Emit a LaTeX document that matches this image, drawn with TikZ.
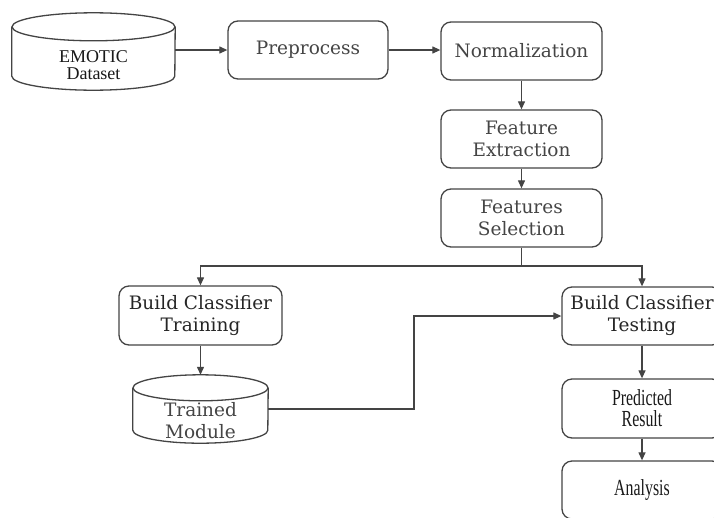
\documentclass[tikz,border=0pt]{standalone}
\usepackage{fontspec}
\setmainfont{Liberation Serif}
\newfontfamily\widefont{DejaVu Serif}
\newfontfamily\condfont[FakeStretch=0.69]{Liberation Serif}
\usetikzlibrary{arrows.meta}
\definecolor{edge}{HTML}{444444}
\definecolor{txtgray}{HTML}{454545}
\tikzset{
  x=1pt,y=-1pt,
  box/.style={draw=edge, line width=1.3pt, rounded corners=10pt, minimum width=160pt, minimum height=58pt, align=center, inner sep=0pt, text=txtgray, font=\widefont\fontsize{18.5}{22}\selectfont},
  darkbox/.style={box, text=black!85},
  condbox/.style={box, text=black!90, font=\condfont\fontsize{23}{21}\selectfont},
  dbnode/.style={inner sep=0pt},
  cyl/.style={draw=edge, line width=1.3pt},
  lbl/.style={align=center, inner sep=0pt},
  arr/.style={draw=edge, line width=1.2pt, -{Triangle[length=8pt,width=7pt]}},
  ln/.style={draw=edge, line width=1.2pt},
}
\newcommand\drawcyl[3]{% node name, x radius, y radius
  \draw[cyl] ([yshift=-#3]#1.north west) -- ([yshift=#3]#1.south west)
    arc[start angle=180, end angle=360, x radius=#2, y radius=#3]
    -- ([yshift=-#3]#1.north east);
  \draw[cyl] ([yshift=-#3]#1.north) ellipse [x radius=#2, y radius=#3];
}
\begin{document}
\begin{tikzpicture}
\useasboundingbox[fill=white] (0,0) rectangle (714,517);
% nodes
\node[dbnode, minimum width=163pt, minimum height=77pt] (emotic) at (93.5,51.5) {};
\drawcyl{emotic}{81.5pt}{14pt}
\node[lbl, text=black!90, font=\fontsize{18}{17}\selectfont] (emoticlbl) at (93.5,65) {EMOTIC\\Dataset};
\node[box] (pre) at (308,50) {Preprocess};
\node[box, minimum width=161pt] (norm) at (521.5,51) {Normalization};
\node[box, minimum width=161pt] (feat) at (521.5,139) {Feature\\Extraction};
\node[box, minimum width=161pt] (fsel) at (521.5,218) {Features\\Selection};
\node[darkbox, minimum width=163pt, minimum height=59pt] (train) at (200.5,315.5) {Build Classifier\\Training};
\node[dbnode, minimum width=135pt, minimum height=68pt] (trained) at (200.5,409) {};
\drawcyl{trained}{67.5pt}{13pt}
\node[lbl, text=txtgray, font=\widefont\fontsize{18.5}{22}\selectfont] (trainedlbl) at (200.5,421) {Trained\\Module};
\node[darkbox] (test) at (642,316) {Build Classifier\\Testing};
\node[condbox, minimum height=59pt] (pred) at (642,408.5) {Predicted\\Result};
\node[condbox] (ana) at (642,490) {Analysis};
% helper coordinates
\coordinate (split) at (521.5,266);
\coordinate (via) at (414,0);
% connectors
\draw[arr] (emotic.east |- pre.west) -- (pre.west);
\draw[arr] (pre.east) -- (pre.east -| norm.west);
\draw[arr] (norm) -- (feat);
\draw[arr] (feat) -- (fsel);
\draw[ln] (fsel.south) -- (split);
\draw[arr] (split) -| (train.north);
\draw[arr] (split) -| (test.north);
\draw[arr] (train) -- (trained.north);
\draw[arr] (trained.east) -- (trained.east -| via) |- (test.west);
\draw[arr] (test) -- (pred);
\draw[arr] (pred) -- (ana);
\end{tikzpicture}
\end{document}
